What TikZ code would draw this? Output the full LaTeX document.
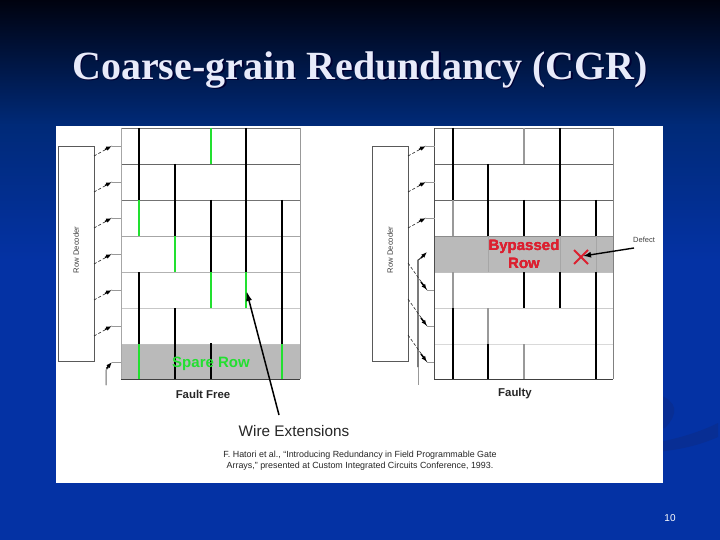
\documentclass[tikz,border=0pt]{standalone}
\usepackage{fontspec}
\setmainfont{Liberation Sans}
\newfontfamily\titlefont{Liberation Serif}
\usetikzlibrary{arrows.meta,decorations.markings}
\definecolor{bgtop}{HTML}{00020F}
\definecolor{bgmid}{HTML}{002A78}
\definecolor{bgbot}{HTML}{0432A4}
\definecolor{swoosh}{HTML}{082E94}
\definecolor{wgreen}{HTML}{22E030}
\definecolor{wred}{HTML}{DC2030}
\definecolor{titlecol}{HTML}{E8EBFA}
\tikzset{x=1pt,y=-1pt,
  blk/.style={black,line width=1.6pt},
  blkthin/.style={black,line width=1.2pt},
  grn/.style={wgreen,line width=1.6pt},
  gry/.style={gray!80,line width=1.5pt},
  band/.style={gray!70,line width=1pt},
  decoder/.style={draw=black!65,fill=white,line width=.7pt},
  rowline/.style={line width=.8pt},
  tail/.style={densely dashed,line width=.6pt,black!85},
  stub/.style={line width=.5pt,black!40},
  tip/.style={-{Latex[length=6pt,width=4.5pt]},line width=1.5pt,black},
  lbl/.style={inner sep=0pt,align=center}}
\newcommand{\rowarrow}[2]{% x of decoder edge, y of the row
  \draw[tail] (#1,#2+10) -- (#1+18,#2);
  \draw[tip] (#1+11,#2+3.5) -- (#1+18,#2);
  \draw[stub] (#1+18,#2) -- (#1+27,#2);}
\newcommand{\downarrowrow}[2]{%
  \draw[tail] (#1,#2-27) -- (#1+19,#2);
  \draw[tip] (#1+13,#2-8) -- (#1+19,#2);
  \draw[stub] (#1+19,#2) -- (#1+26,#2);}
\begin{document}
\begin{tikzpicture}
\useasboundingbox (0,0) rectangle (720,540);
% background
\fill[bgbot] (0,0) rectangle (720,540);
\shade[top color=bgtop,bottom color=bgmid] (0,0) rectangle (720,125);
\shade[top color=bgmid,bottom color=bgbot] (0,125) rectangle (720,260);
\fill[swoosh] (655,443) .. controls (680,438) and (700,432) .. (718,423) -- (718,437) .. controls (700,445) and (680,450) .. (655,452) -- cycle;
\fill[swoosh] (660,395) .. controls (676,402) and (680,412) .. (665,428) -- (660,428) -- cycle;
% title
\node[lbl,font=\titlefont\bfseries\fontsize{40}{40}\selectfont,text=black!80!blue] at (361.5,71.5) {Coarse-grain Redundancy (CGR)};
\node[lbl,font=\titlefont\bfseries\fontsize{40}{40}\selectfont,text=titlecol] (title) at (360,70) {Coarse-grain Redundancy (CGR)};
% panel
\fill[white] (56,126) rectangle (663,483);

%%% LEFT: fault free
\fill[black!27] (121,344) rectangle (300,379);
\foreach \y/\c in {128/55,164/60,200/55,236/35,272/30,308/22,344/25}
  \draw[rowline,black!\c] (121,\y) -- (300,\y);
\draw[rowline,black!75] (121,379.5) -- (300,379.5);
\draw[rowline,black!35] (121,128) -- (121,379);
\draw[rowline,black!40] (300,128) -- (300,379);
\foreach \a/\b in {128/200,272/344} \draw[blk] (139,\a) -- (139,\b);
\draw[grn] (139,200) -- (139,236);
\draw[grn] (139,344) -- (139,379);
\draw[blk] (175,164) -- (175,236);
\draw[grn] (175,236) -- (175,272);
\draw[blk] (175,308) -- (175,379);
\draw[grn] (211,128) -- (211,164);
\draw[blk] (211,200) -- (211,272);
\draw[grn] (211,272) -- (211,308);
\draw[blk] (211,343) -- (211,379);
\draw[blkthin] (246,128) -- (246,272);
\draw[grn] (246,272) -- (246,308);
\draw[blkthin] (282,200) -- (282,344);
\draw[grn] (282,344) -- (282,379);
\node[decoder,minimum width=36pt,minimum height=215pt,inner sep=0pt] (decL) at (76,253.5) {};
\node[lbl,rotate=90,font=\fontsize{7.7}{8}\selectfont,text=black!75] (decLt) at (76,250) {Row Decoder};
\foreach \y in {146,182,218,254,290,326} \rowarrow{94}{\y}
\draw[stub] (106,385) -- (106,370) -- (109,367);
\draw[tip] (106.5,368.5) -- (112,362);
\draw[stub] (112,362) -- (121,362);
\node[lbl,font=\bfseries\fontsize{15}{15}\selectfont,text=wgreen] (spare) at (211,364) {Spare Row};
\node[lbl,font=\bfseries\fontsize{11.4}{12}\selectfont,text=black!85] (ff) at (203,394) {Fault Free};

%%% RIGHT: faulty
\fill[black!27] (434,236) rectangle (613,272);
\foreach \y/\c in {128/55,164/60,200/60,236/45,272/25,308/20,344/15}
  \draw[rowline,black!\c] (434,\y) -- (613,\y);
\draw[rowline,black!75] (434,379.5) -- (613,379.5);
\draw[rowline,black!70] (434,128) -- (434,379);
\draw[rowline,black!50] (613,128) -- (613,379);
\draw[blk] (453,128) -- (453,200);
\draw[gry] (453,200) -- (453,236);
\draw[gry] (453,272) -- (453,308);
\draw[blk] (453,308) -- (453,379);
\draw[blkthin] (488,164) -- (488,236);
\draw[band] (488,236) -- (488,272);
\draw[gry] (488,308) -- (488,344);
\draw[blkthin] (488,344) -- (488,379);
\draw[gry] (524,128) -- (524,164);
\draw[blk] (524,200) -- (524,236);
\draw[blk] (524,272) -- (524,308);
\draw[gry] (524,344) -- (524,379);
\draw[blk] (560,128) -- (560,236);
\draw[band] (560,236) -- (560,272);
\draw[blk] (560,272) -- (560,308);
\draw[blk] (596,200) -- (596,236);
\draw[band] (596,236) -- (596,272);
\draw[blk] (596,272) -- (596,379);
\node[decoder,minimum width=36pt,minimum height=215pt,inner sep=0pt] (decR) at (390,253.5) {};
\node[lbl,rotate=90,font=\fontsize{7.7}{8}\selectfont,text=black!75] (decRt) at (390,250) {Row Decoder};
\foreach \y in {146,182,218} \rowarrow{408}{\y}
\draw[stub,black!70,line width=.7pt] (418,367) -- (418,260) -- (421,258);
\draw[stub] (418,367) -- (418,385);
\draw[tip] (421,258) -- (427,252);
\foreach \y in {290,326,362} \downarrowrow{408}{\y}
\node[lbl,font=\bfseries\fontsize{15}{18}\selectfont,text=wred] (byp) at (524,254) {Bypassed\\Row};
\node[lbl,font=\bfseries\fontsize{11.4}{12}\selectfont,text=black!85] (fty) at (515,394) {Faulty};
\coordinate (defect) at (581,257);
\draw[wred,line width=1.8pt] (574,250) -- (588,264) (574,264) -- (588,250);
\node[lbl,font=\fontsize{7.5}{8}\selectfont,text=black!75] (dlab) at (644,240) {Defect};
\coordinate (dfrom) at (634,248);
\draw[-{Latex[length=8pt,width=6pt]},line width=1.4pt,black] (dfrom) -- (583,256);

%%% bottom labels
\node[lbl,font=\fontsize{15.3}{16}\selectfont,text=black!85] (wire) at (294,431) {Wire Extensions};
\coordinate (wtip) at (246.5,291);
\draw[-{Latex[length=10pt,width=6pt]},line width=1.5pt,black] (279,415) -- (wtip);
\node[lbl,font=\fontsize{8.9}{11}\selectfont,text=black!85] (cite) at (360,460.5) {F. Hatori et al., ``Introducing Redundancy in Field Programmable Gate\\Arrays,'' presented at Custom Integrated Circuits Conference, 1993.};
\node[lbl,font=\fontsize{10}{10}\selectfont,text=white] (num) at (670,518) {10};
\end{tikzpicture}
\end{document}
